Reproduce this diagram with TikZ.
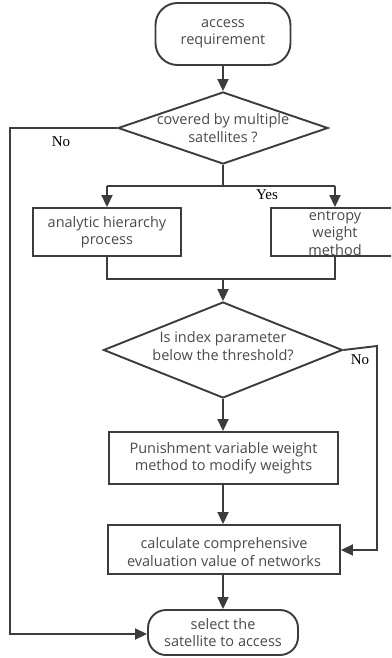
\documentclass[tikz,border=0pt]{standalone}
\usepackage{fontspec}
\setmainfont{Open Sans}
\newfontfamily\labfont{Liberation Serif}
\usetikzlibrary{arrows.meta,shapes.geometric}
\definecolor{ln}{HTML}{3C3C3C}
\definecolor{tx}{HTML}{4A4A4A}
\tikzset{
  flow/.style={draw=ln,line width=1.9pt},
  arr/.style={flow,-{Triangle[length=12pt,width=11pt]}},
  txt/.style={text=tx,font=\fontsize{14.5}{17.5}\selectfont,align=center,inner sep=0pt},
  boxn/.style={draw=ln,line width=1.9pt,rectangle,inner sep=0pt},
  term/.style={boxn,rounded corners=22pt},
  dia/.style={draw=ln,line width=1.9pt,diamond,inner sep=0pt},
  lab/.style={font=\labfont\fontsize{15}{17}\selectfont,text=black,inner sep=0pt}
}
\begin{document}
\begin{tikzpicture}[x=1pt,y=-1pt]
\clip (0,0) rectangle (391,658);
\fill[white] (0,0) rectangle (391,658);
% nodes
\node[term,minimum width=135pt,minimum height=62pt] (start) at (223,34) {};
\node[txt] at (start) {access\\requirement};
\node[dia,minimum width=210pt,minimum height=72pt] (d1) at (223,128) {};
\node[txt] at (223,128) {covered by multiple\\satellites ?};
\node[boxn,minimum width=148pt,minimum height=48pt] (ahp) at (107,232) {};
\node[txt] at (ahp) {analytic hierarchy\\process};
\node[boxn,minimum width=129pt,minimum height=48pt] (ewm) at (335.5,232) {};
\node[txt] at (335,233) {entropy\\weight\\method};
\node[dia,minimum width=239pt,minimum height=96pt] (d2) at (223,350) {};
\node[txt] at (223,346) {Is index parameter\\below the threshold?};
\node[boxn,minimum width=229pt,minimum height=52pt] (pun) at (223.5,458) {};
\node[txt] at (pun) {Punishment variable weight\\method to modify weights};
\node[boxn,minimum width=232pt,minimum height=49pt] (calc) at (224,549.5) {};
\node[txt] at (224,552) {calculate comprehensive\\evaluation value of networks};
\node[term,rounded corners=18pt,minimum width=150pt,minimum height=45pt] (sel) at (223,632.5) {};
\node[txt] at (sel) {select the\\satellite to access};
% coordinates
\coordinate (split) at (223,186);
\coordinate (sl) at (107,186);
\coordinate (sr) at (335,186);
\coordinate (jl) at (107,279);
\coordinate (jr) at (335,279);
\coordinate (jm) at (223,279);
\coordinate (lt) at (10,128);
\coordinate (lb) at (10,634);
\coordinate (rt) at (377,346);
\coordinate (rb) at (377,550);
% connectors
\draw[arr] (start) -- (d1.north);
\draw[flow] (d1.south) -- (split);
\draw[flow] (sl) -- (sr);
\draw[arr] (sl) -- (ahp.north);
\draw[arr] (sr) -- (sr |- ewm.north);
\draw[flow] (ahp.south) -- (jl) -- (jr) -- (sr |- ewm.south);
\draw[arr] (jm) -- (d2.north);
\draw[arr] (d2.south) -- (d2.south |- pun.north);
\draw[arr] (d2.south |- pun.south) -- (d2.south |- calc.north);
\draw[arr] (d2.south |- calc.south) -- (sel.north);
\draw[arr] (d1.west) -- (lt) -- (lb) -- (sel.west |- lb);
\draw[arr] (d2.east) -- (rt) -- (rb) -- (calc.east |- rb);
% labels
\node[lab] at (61,142) {No};
\node[lab] at (267,195) {Yes};
\node[lab] at (360,360) {No};
\end{tikzpicture}
\end{document}
